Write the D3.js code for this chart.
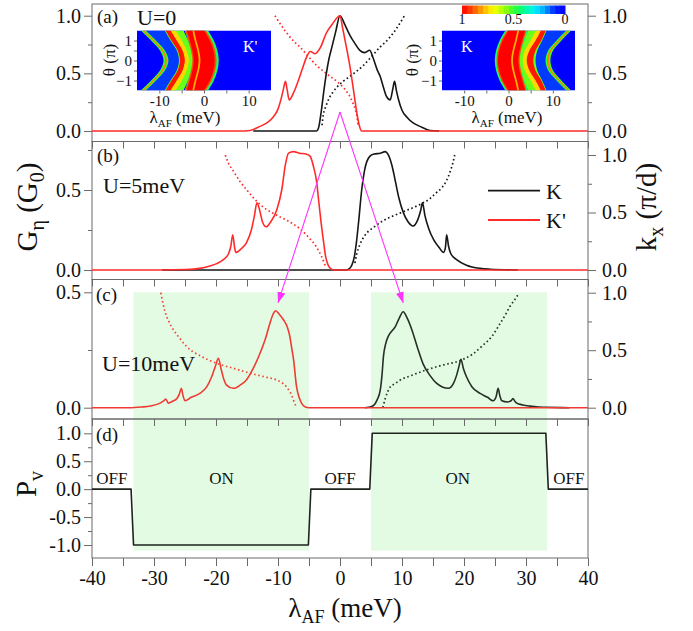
<!DOCTYPE html>
<html>
<head>
<meta charset="utf-8">
<script src="https://d3js.org/d3.v7.min.js"></script>
<style>
body { margin:0; background:#fff; }
svg text { font-family:"Liberation Serif","Times New Roman",serif; fill:#111; }
.axis path.domain { display:none; }
.axis line { stroke:#6a6a6a; }
</style>
</head>
<body>
<svg id="chart" width="693" height="631"></svg>
<script>
// ---------------- data ----------------
var xTicks = [-40,-30,-20,-10,0,10,20,30,40];
var xMinor = [-35,-25,-15,-5,5,15,25,35];

// (a) U=0 : G_eta and k_x
var aK  = [[-14,0],[-3.8,0],[-3.5,0.02],[-3.0,0.18],[-2.6,0.35],[-2.2,0.5],[-1.8,0.62],[-1.3,0.73],[-0.7,0.86],[0,1.0],[0.8,0.92],[1.6,0.83],[2.4,0.76],[3.2,0.7],[4.0,0.68],[4.8,0.7],[5.3,0.64],[6.0,0.53],[6.5,0.47],[7.0,0.38],[7.5,0.3],[8.1,0.27],[8.5,0.36],[8.8,0.43],[9.1,0.35],[9.4,0.28],[10.0,0.18],[10.8,0.12],[11.8,0.07],[12.9,0.04],[14.5,0.005],[16,0]];
var aKp = [[-40,0],[-16,0],[-14.5,0.005],[-12.9,0.04],[-11.8,0.07],[-10.8,0.12],[-10.0,0.19],[-9.4,0.3],[-9.1,0.37],[-8.8,0.43],[-8.5,0.35],[-8.2,0.27],[-7.5,0.33],[-6.7,0.44],[-6.0,0.55],[-5.4,0.64],[-4.8,0.69],[-4.0,0.67],[-3.2,0.72],[-2.2,0.85],[-1.2,0.93],[0,1.0],[0.4,0.9],[0.8,0.79],[1.2,0.68],[1.6,0.56],[2.0,0.42],[2.4,0.27],[2.8,0.13],[3.1,0.05],[3.5,0],[40,0]];
var aKxK  = [[-2.9,0.05],[-2.7,0.14],[-2.5,0.18],[-2.1,0.24],[-1.7,0.29],[-1.1,0.34],[-0.5,0.38],[0.5,0.43],[2.0,0.49],[3.8,0.57],[5.0,0.64],[6.5,0.73],[7.5,0.78],[9.0,0.88],[10.4,1.0]];
var aKxKp = [[-10.5,1.0],[-9.0,0.88],[-7.5,0.78],[-6.5,0.73],[-5.0,0.64],[-3.8,0.57],[-2.0,0.49],[-0.5,0.43],[0.5,0.38],[1.1,0.34],[1.7,0.29],[2.1,0.24],[2.5,0.18],[2.7,0.14],[2.9,0.05]];

// (b) U=5meV
var bK  = [[-28.7,0],[1.0,0],[1.4,0.005],[1.9,0.03],[2.3,0.08],[2.7,0.19],[3.0,0.3],[3.5,0.5],[4.0,0.63],[4.8,0.71],[5.5,0.725],[6.5,0.73],[7.3,0.74],[7.8,0.72],[8.4,0.65],[8.9,0.56],[9.5,0.45],[10.2,0.36],[11.0,0.3],[11.8,0.275],[12.5,0.31],[13.0,0.37],[13.3,0.42],[13.7,0.34],[14.3,0.26],[15.1,0.19],[16.0,0.14],[16.7,0.11],[17.0,0.14],[17.2,0.22],[17.5,0.15],[17.9,0.1],[18.8,0.065],[20.4,0.03],[22.6,0.01],[24.2,0.005],[28.7,0]];
var bKp = [[-40,0],[-29,0],[-25,0.003],[-22.6,0.01],[-21,0.025],[-19.9,0.04],[-18.8,0.065],[-18.0,0.1],[-17.6,0.15],[-17.3,0.22],[-17.0,0.14],[-16.8,0.11],[-16.0,0.13],[-15.1,0.17],[-14.3,0.25],[-13.8,0.34],[-13.4,0.42],[-13.0,0.38],[-12.5,0.3],[-11.9,0.27],[-11.2,0.3],[-10.2,0.375],[-9.4,0.5],[-8.8,0.66],[-8.3,0.73],[-7.5,0.74],[-6.5,0.73],[-5.5,0.725],[-4.8,0.71],[-4.3,0.65],[-3.8,0.56],[-3.4,0.42],[-3.0,0.28],[-2.7,0.19],[-2.3,0.08],[-1.9,0.03],[-1.4,0.005],[-1.0,0],[40,0]];
var bKxK  = [[2.4,0.06],[2.7,0.14],[3.2,0.22],[4.0,0.3],[5.4,0.37],[7.0,0.43],[9.0,0.48],[10.8,0.52],[12.9,0.57],[14.5,0.62],[15.5,0.67],[16.5,0.72],[17.2,0.78],[17.8,0.86],[18.2,0.93],[18.5,1.0]];
var bKxKp = [[-18.5,1.0],[-18.0,0.93],[-17.2,0.86],[-16.0,0.76],[-15.1,0.7],[-14.0,0.63],[-12.9,0.57],[-10.7,0.49],[-8.5,0.43],[-6.5,0.36],[-5.0,0.28],[-3.8,0.2],[-3.0,0.12],[-2.4,0.04]];

// (c) U=10meV
var cK  = [[4.0,0],[5.0,0.004],[5.6,0.015],[6.0,0.035],[6.5,0.077],[6.8,0.15],[7.0,0.22],[7.4,0.28],[7.8,0.31],[8.3,0.33],[8.9,0.35],[9.5,0.385],[10.2,0.416],[10.8,0.39],[11.6,0.337],[12.5,0.26],[13.4,0.19],[14.5,0.14],[15.6,0.105],[16.5,0.09],[17.5,0.084],[18.3,0.105],[18.8,0.14],[19.2,0.18],[19.5,0.21],[19.9,0.17],[20.4,0.134],[21.3,0.09],[22.6,0.062],[23.8,0.045],[24.7,0.03],[25.2,0.05],[25.5,0.084],[25.8,0.05],[26.1,0.03],[27.0,0.025],[27.6,0.03],[27.9,0.04],[28.2,0.028],[28.5,0.02],[29.5,0.012],[30.6,0.007],[32,0.003],[33.3,0.002],[37,0]];
var cKp = [[-40,0],[-34,0],[-32,0.003],[-30.6,0.007],[-29,0.02],[-28.5,0.028],[-28.1,0.038],[-27.7,0.02],[-27,0.028],[-26.3,0.04],[-25.9,0.06],[-25.6,0.084],[-25.3,0.05],[-25,0.03],[-24,0.045],[-22.6,0.062],[-21.5,0.09],[-20.7,0.134],[-20.1,0.18],[-19.6,0.214],[-19.2,0.17],[-18.7,0.12],[-18.3,0.098],[-17.2,0.084],[-16,0.1],[-15.1,0.12],[-14,0.17],[-12.9,0.236],[-11.9,0.31],[-11.3,0.366],[-10.8,0.405],[-10.4,0.42],[-9.8,0.405],[-9.1,0.38],[-8.5,0.35],[-8.1,0.31],[-7.8,0.26],[-7.5,0.21],[-7.0,0.09],[-6.6,0.045],[-6.2,0.02],[-5.6,0.003],[-5.0,0],[40,0]];
var cKxK  = [[6.9,0],[7.3,0.08],[7.7,0.14],[8.1,0.18],[8.9,0.21],[9.7,0.24],[11.5,0.28],[14,0.33],[16.5,0.37],[19.4,0.41],[21.5,0.47],[23.1,0.545],[24.5,0.62],[25.8,0.73],[26.8,0.82],[27.4,0.88],[28.2,0.94],[28.8,0.99]];
var cKxKp = [[-28.9,1.0],[-28.3,0.85],[-27.6,0.75],[-26.9,0.68],[-25.8,0.6],[-24.7,0.53],[-22.5,0.45],[-19.9,0.386],[-17,0.34],[-14.5,0.3],[-12.3,0.27],[-10.2,0.24],[-9.2,0.21],[-8.6,0.18],[-8.1,0.14],[-7.8,0.11],[-7.4,0.05],[-7.0,0]];

// (d) valley polarization
var dPv = [[-40,0],[-33.7,0],[-33.3,-1],[-5.1,-1],[-4.7,0],[4.8,0],[5.2,1],[33.2,1],[33.6,0],[40,0]];
var onRanges = [[-33.3,-5.0],[5.0,33.4]];
var stateText = ["OFF","ON","OFF","ON","OFF"];
var stateX = [-36.8,-19.1,0,19.0,36.9];

// magenta arrows: from panel (a) to panel (c) peaks
var arrowFrom = [0,0.165];
var arrowTo = [[-10.0,0.454],[10.2,0.454]];

// insets: angle-resolved transmission, bands given as left/right edges per theta row
var thetaRows = [-1.5,-1,-0.5,0,0.5,1,1.5];
var bandV = [0.12, 0.5, 0.85, 0.45, 0.55, 0.97, 0.75, 0.9, 1.0, 0.8];
var kpBandLo = [
  [-13.3,-11.0,-9.0,-8.2,-9.0,-11.0,-13.3],
  [-14.15,-11.85,-9.85,-9.05,-9.85,-11.85,-14.15],
  [-13.8,-11.5,-9.5,-8.7,-9.5,-11.5,-13.8],
  [-4.3,-3.6,-3.0,-2.7,-3.0,-3.6,-4.3],
  [-8.8,-7.5,-6.1,-5.6,-6.1,-7.5,-8.8],
  [-8.6,-7.3,-5.9,-5.4,-5.9,-7.3,-8.6],
  [-7.5,-6.1,-4.8,-4.3,-4.8,-6.1,-7.5],
  [-4.2,-3.5,-2.9,-2.6,-2.9,-3.5,-4.2],
  [-3.9,-3.2,-2.6,-2.3,-2.6,-3.2,-3.9],
  [-2.6,-2.1,-1.5,-1.2,-1.5,-2.1,-2.6]];
var kpBandHi = [
  [-8.3,-7.0,-5.6,-5.1,-5.6,-7.0,-8.3],
  [-13.05,-10.75,-8.75,-7.95,-8.75,-10.75,-13.05],
  [-13.4,-11.1,-9.1,-8.3,-9.1,-11.1,-13.4],
  [0.9,2.2,3.0,3.3,3.0,2.2,0.9],
  [-4.6,-3.6,-2.9,-2.5,-2.9,-3.6,-4.6],
  [-7.4,-6.0,-4.7,-4.2,-4.7,-6.0,-7.4],
  [-6.4,-5.0,-3.9,-3.4,-3.9,-5.0,-6.4],
  [0.4,1.7,2.5,2.8,2.5,1.7,0.4],
  [0.0,1.3,2.1,2.4,2.1,1.3,0.0],
  [-2.2,-1.7,-1.1,-0.8,-1.1,-1.7,-2.2]];
var kBandLo = [
  [8.3,7.0,5.9,5.5,5.9,7.0,8.3],
  [13.05,10.85,8.95,8.35,8.95,10.85,13.05],
  [13.4,11.2,9.3,8.7,9.3,11.2,13.4],
  [-0.7,-2.0,-2.8,-3.1,-2.8,-2.0,-0.7],
  [4.4,3.6,2.9,2.5,2.9,3.6,4.4],
  [7.2,6.0,4.6,4.0,4.6,6.0,7.2],
  [6.2,5.0,3.7,3.2,3.7,5.0,6.2],
  [-0.3,-1.6,-2.4,-2.7,-2.4,-1.6,-0.3],
  [0.0,-1.3,-2.1,-2.4,-2.1,-1.3,0.0],
  [2.0,1.5,0.9,0.6,0.9,1.5,2.0]];
var kBandHi = [
  [13.3,11.0,9.1,8.4,9.1,11.0,13.3],
  [14.15,11.95,10.05,9.45,10.05,11.95,14.15],
  [13.8,11.6,9.7,9.1,9.7,11.6,13.8],
  [4.4,3.7,3.1,2.8,3.1,3.7,4.4],
  [8.6,7.6,6.5,6.1,6.5,7.6,8.6],
  [8.4,7.4,6.1,5.6,6.1,7.4,8.4],
  [7.3,6.1,4.7,4.1,4.7,6.1,7.3],
  [4.1,3.4,2.8,2.5,2.8,3.4,4.1],
  [3.8,3.1,2.5,2.2,2.5,3.1,3.8],
  [2.4,1.9,1.3,1.0,1.3,1.9,2.4]];

// ---------------- layout ----------------
var svg = d3.select("#chart");
var L = 92, R = 588;
var x = d3.scaleLinear().domain([-40,40]).range([L,R]);

var pa = {top:4, bottom:141.5, yl:d3.scaleLinear().domain([0,1]).range([131,15.7])};
pa.yr = pa.yl;
var pb = {top:141.5, bottom:279.5, yl:d3.scaleLinear().domain([0,0.5]).range([270,190]), yr:d3.scaleLinear().domain([0,1]).range([270,155])};
var pc = {top:279.5, bottom:419, yl:d3.scaleLinear().domain([0,0.5]).range([407.7,292.3]), yr:d3.scaleLinear().domain([0,1]).range([407.7,292.7])};
var pd = {top:419, bottom:558, yl:d3.scaleLinear().domain([-1,1]).range([545,433.3])};

var RED = "#ff2b2b", BLK = "#161616", FRAME = "#6a6a6a";

// ON shading (spans panels c and d)
svg.selectAll(".on").data(onRanges).enter().append("rect")
    .attr("x", function(d) { return x(d[0]); })
    .attr("width", function(d) { return x(d[1]) - x(d[0]); })
    .attr("y", pc.yl(0.5))
    .attr("height", pd.yl(-1.1) - pc.yl(0.5))
    .attr("fill", "#e3fbe3");

// frames
[pa,pb,pc,pd].forEach(function(p) {
  svg.append("rect").attr("x", L).attr("y", p.top).attr("width", R - L).attr("height", p.bottom - p.top)
      .attr("fill", "none").attr("stroke", FRAME).attr("stroke-width", 1);
});

function fmt1(d) { return d.toFixed(1); }

// x ticks at panel tops (pointing down) and bottom axis
[pb,pc,pd].forEach(function(p) {
  svg.append("g").attr("class", "axis").attr("transform", "translate(0," + p.top + ")")
      .call(d3.axisBottom(x).tickValues(xTicks.concat(xMinor)).tickSize(7).tickFormat(""));
});
var xb = svg.append("g").attr("class", "axis").attr("transform", "translate(0," + pd.bottom + ")")
    .call(d3.axisBottom(x).tickValues(xTicks).tickSize(8).tickPadding(5).tickFormat(function(d) { return String(d); }));
xb.append("g").call(d3.axisBottom(x).tickValues(xMinor).tickSize(8).tickFormat(""));
svg.selectAll(".axis text").style("font-size", "20px");

function yAxis(scale, side, major, minor) {
  var ax = side == "left" ? d3.axisLeft : d3.axisRight;
  var g = svg.append("g").attr("class", "axis").attr("transform", "translate(" + (side == "left" ? L : R) + ",0)");
  g.call(ax(scale).tickValues(major).tickSize(8).tickPadding(side == "left" ? 3 : 6).tickFormat(fmt1));
  g.append("g").call(ax(scale).tickValues(minor).tickSize(4).tickFormat(""));
  g.selectAll("text").style("font-size", "20px").attr("fill", "#111");
  g.selectAll("path.domain").remove();
}
yAxis(pa.yl, "left", [0,0.5,1], [0.25,0.75]);
yAxis(pa.yr, "right", [0,0.5,1], [0.25,0.75]);
yAxis(pb.yl, "left", [0,0.5], [0.25,0.75]);
yAxis(pb.yr, "right", [0,0.5,1], [0.25,0.75]);
yAxis(pc.yl, "left", [0,0.5], [0.25]);
yAxis(pc.yr, "right", [0,0.5,1], [0.25,0.75]);
yAxis(pd.yl, "left", [-1,-0.5,0,0.5,1], [-0.75,-0.25,0.25,0.75]);

// ---------------- insets ----------------
var jet = d3.scaleLinear()
    .domain([0,0.1,0.2,0.3,0.4,0.5,0.6,0.7,0.8,0.9,1])
    .range(["#0000ff","#0020ff","#00a0ff","#00f0ff","#00ff90","#30ff30","#a0ff00","#ffff00","#ffb000","#ff5000","#ff0000"]);

function drawInset(id, px0, px1, bandLo, bandHi, label, labelX, thetaX, titleX) {
  var ix = d3.scaleLinear().domain([-15,15]).range([px0,px1]);
  var iy = d3.scaleLinear().domain([-1.5,1.5]).range([90.5,30.5]);
  var g = svg.append("g");
  g.append("clipPath").attr("id", id).append("rect")
      .attr("x", px0).attr("y", iy(1.5)).attr("width", px1 - px0).attr("height", iy(-1.5) - iy(1.5));
  var img = g.append("g").attr("clip-path", "url(#" + id + ")");
  img.append("rect").attr("x", px0).attr("y", iy(1.5)).attr("width", px1 - px0).attr("height", iy(-1.5) - iy(1.5))
      .attr("fill", jet(0));
  bandV.forEach(function(v, k) {
    var area = d3.area()
        .y(function(d, i) { return iy(thetaRows[i]); })
        .x0(function(d, i) { return ix(bandLo[k][i]); })
        .x1(function(d, i) { return ix(bandHi[k][i]); })
        .curve(d3.curveCatmullRom);
    img.append("path").datum(thetaRows).attr("d", area).attr("fill", jet(v));
  });
  var ga = g.append("g").attr("class", "axis").attr("transform", "translate(" + px0 + ",0)");
  ga.call(d3.axisLeft(iy).tickValues([-1,0,1]).tickSize(3).tickPadding(2).tickFormat(d3.format("d")));
  ga.append("g").call(d3.axisLeft(iy).tickValues([-0.5,0.5]).tickSize(3).tickFormat(""));
  var gb = g.append("g").attr("class", "axis").attr("transform", "translate(0," + iy(-1.5) + ")");
  gb.call(d3.axisBottom(ix).tickValues([-10,0,10]).tickSize(3).tickPadding(2).tickFormat(function(d) { return String(d); }));
  gb.append("g").call(d3.axisBottom(ix).tickValues([-5,5]).tickSize(3).tickFormat(""));
  g.selectAll(".axis text").style("font-size", "15px");
  g.selectAll("path.domain").remove();
  g.append("text").attr("x", labelX).attr("y", 52).style("font-size", "16px").style("fill", "#fff").text(label);
  var t = g.append("text").attr("transform", "translate(" + thetaX + ",60) rotate(-90)")
      .attr("text-anchor", "middle").style("font-size", "17px");
  t.append("tspan").text("θ (π)");
  var tl = g.append("text").attr("x", titleX).attr("y", 123).attr("text-anchor", "middle").style("font-size", "17px");
  tl.append("tspan").text("λ");
  tl.append("tspan").attr("dy", 4).style("font-size", "11px").text("AF");
  tl.append("tspan").attr("dy", -4).text(" (meV)");
}
drawInset("clipKp", 137, 271, kpBandLo, kpBandHi, "K'", 243, 115, 185);
drawInset("clipK", 442, 575, kBandLo, kBandHi, "K", 461, 418, 507);

// colorbar
var cb = d3.scaleLinear().domain([1,0]).range([462,565]);
var cbSteps = d3.range(0, 1, 0.05);
svg.selectAll(".cb").data(cbSteps).enter().append("rect")
    .attr("x", function(d) { return cb(d + 0.05); })
    .attr("width", function(d) { return cb(d) - cb(d + 0.05) + 0.5; })
    .attr("y", 5.5).attr("height", 8.5)
    .attr("fill", function(d) { return jet(d + 0.025); });
svg.selectAll(".cbl").data([1,0.5,0]).enter().append("text")
    .attr("x", function(d) { return cb(d); }).attr("y", 24).attr("text-anchor", "middle")
    .style("font-size", "14px").text(function(d) { return d == 0.5 ? "0.5" : String(d); });

// ---------------- curves ----------------
function curve(data, yScale, color, dotted, smooth) {
  var line = d3.line().x(function(d) { return x(d[0]); }).y(function(d) { return yScale(d[1]); })
      .curve(smooth === false ? d3.curveLinear : d3.curveMonotoneX);
  svg.append("path").datum(data).attr("d", line).attr("fill", "none")
      .attr("stroke", color).attr("stroke-width", dotted ? 1.7 : 1.6)
      .attr("stroke-dasharray", dotted ? "1.6,2.6" : null)
      .attr("stroke-linejoin", "round");
}
curve(aKxKp, pa.yr, RED, true);
curve(aKxK, pa.yr, BLK, true);
curve(aK, pa.yl, BLK, false);
curve(aKp, pa.yl, RED, false);

curve(bKxKp, pb.yr, RED, true);
curve(bKxK, pb.yr, BLK, true);
curve(bK, pb.yl, BLK, false);
curve(bKp, pb.yl, RED, false);

curve(cKxKp, pc.yr, "#ec4a3c", true);
curve(cKxK, pc.yr, "#2a332a", true);
curve(cK, pc.yl, "#262f26", false);
curve(cKp, pc.yl, "#ee3c34", false);

curve(dPv, pd.yl, "#1e241e", false, false);

// legend (panel b)
var legend = [["K", BLK, 190.7], ["K'", RED, 220]];
legend.forEach(function(l) {
  svg.append("line").attr("x1", 488).attr("x2", 540).attr("y1", l[2]).attr("y2", l[2])
      .attr("stroke", l[1]).attr("stroke-width", 1.8);
  svg.append("text").attr("x", 546).attr("y", l[2] + 8).style("font-size", "22px").text(l[0]);
});

// arrows
var defs = svg.append("defs");
defs.append("marker").attr("id", "arr").attr("markerUnits", "userSpaceOnUse")
    .attr("markerWidth", 11).attr("markerHeight", 8).attr("refX", 11).attr("refY", 4).attr("orient", "auto")
  .append("path").attr("d", "M0,0 L11,4 L0,8 z").attr("fill", "#ff33ff");
arrowTo.forEach(function(t) {
  svg.append("line")
      .attr("x1", x(arrowFrom[0])).attr("y1", pa.yl(arrowFrom[1]))
      .attr("x2", x(t[0])).attr("y2", pc.yl(t[1]))
      .attr("stroke", "#ff33ff").attr("stroke-width", 1.1)
      .attr("marker-end", "url(#arr)");
});

// ON / OFF labels
svg.selectAll(".st").data(stateText).enter().append("text")
    .attr("x", function(d, i) { return x(stateX[i]); })
    .attr("y", pd.yl(0.1)).attr("text-anchor", "middle")
    .style("font-size", "17px").text(function(d) { return d; });

// panel labels
function label(txt, px, py, size) {
  svg.append("text").attr("x", px).attr("y", py).style("font-size", size + "px").text(txt);
}
label("(a)", 97, 23, 19);
label("U=0", 137, 25, 22);
label("(b)", 97, 162, 19);
label("U=5meV", 103, 193, 22);
label("(c)", 96, 301, 19);
label("U=10meV", 102, 371, 22);
label("(d)", 96, 441, 19);

// axis titles
var xt = svg.append("text").attr("x", 345).attr("y", 617).attr("text-anchor", "middle").style("font-size", "27px");
xt.append("tspan").text("λ");
xt.append("tspan").attr("dy", 6).style("font-size", "18px").text("AF");
xt.append("tspan").attr("dy", -6).text(" (meV)");

var gt = svg.append("text").attr("transform", "translate(37,207) rotate(-90)").attr("text-anchor", "middle").style("font-size", "29px");
gt.append("tspan").text("G");
gt.append("tspan").attr("dy", 7).style("font-size", "20px").text("η");
gt.append("tspan").attr("dy", -7).text(" (G");
gt.append("tspan").attr("dy", 7).style("font-size", "20px").text("0");
gt.append("tspan").attr("dy", -7).text(")");

var kt = svg.append("text").attr("transform", "translate(656,207) rotate(-90)").attr("text-anchor", "middle").style("font-size", "29px");
kt.append("tspan").text("k");
kt.append("tspan").attr("dy", 7).style("font-size", "20px").text("x");
kt.append("tspan").attr("dy", -7).text(" (π/d)");

var pt = svg.append("text").attr("transform", "translate(36,484) rotate(-90)").attr("text-anchor", "middle").style("font-size", "29px");
pt.append("tspan").text("P");
pt.append("tspan").attr("dy", 7).style("font-size", "20px").text("v");
</script>
</body>
</html>
